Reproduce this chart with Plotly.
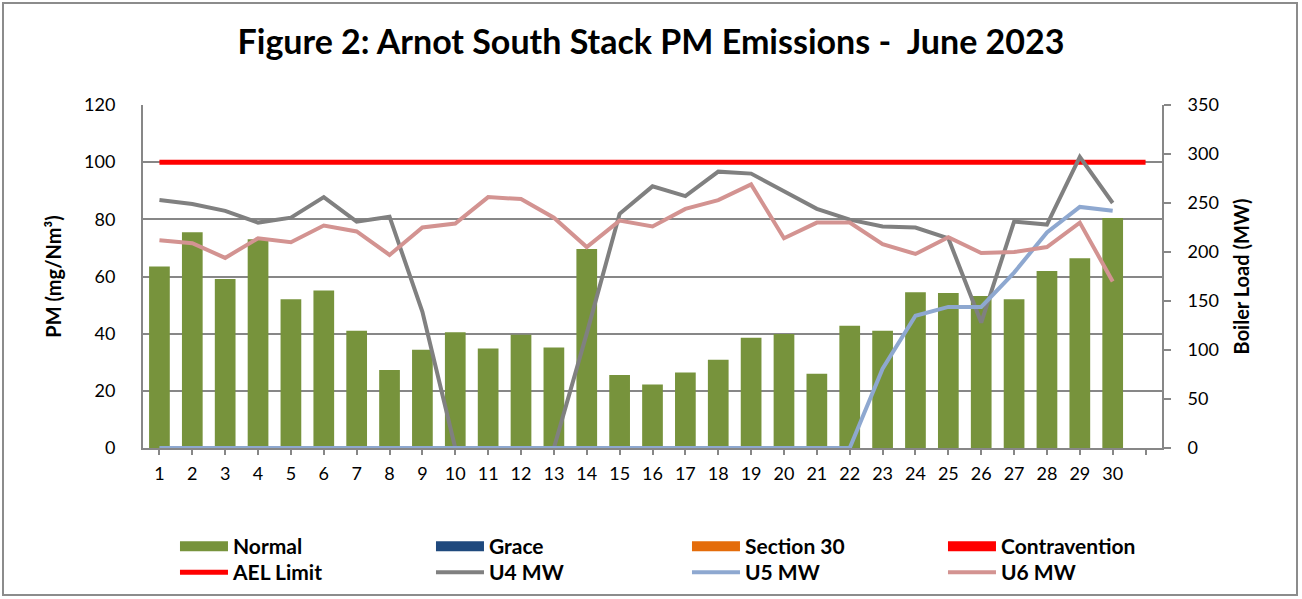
import plotly.graph_objects as go

days = list(range(1, 31))
x_tick_vals = list(range(1, 32))
x_tick_text = [str(d) for d in days] + [""]

normal = [63.5, 75.5, 59.1, 73.0, 52.0, 55.1, 41.0, 27.3, 34.4, 40.5,
          34.8, 39.6, 35.2, 69.6, 25.5, 22.2, 26.4, 30.9, 38.6, 39.9,
          26.0, 42.8, 41.0, 54.5, 54.2, 53.2, 52.0, 61.9, 66.4, 80.5]
grace = [None] * 30
section30 = [None] * 30
contravention = [None] * 30

ael_days = list(range(1, 32))
ael_limit = [100] * 31

u4_mw = [253, 249, 242, 230, 235, 256, 231, 236, 139, 0,
         0, 0, 0, 117, 239, 267, 257, 282, 280, 262,
         244, 233, 226, 225, 214, 128, 231, 228, 297, 250]
u5_mw = [0, 0, 0, 0, 0, 0, 0, 0, 0, 0,
         0, 0, 0, 0, 0, 0, 0, 0, 0, 0,
         0, 0, 81, 135, 144, 144, 179, 220, 246, 242]
u6_mw = [212, 209, 194, 214, 210, 227, 221, 197, 225, 229,
         256, 254, 235, 205, 232, 226, 244, 253, 269, 214,
         230, 230, 208, 198, 215, 199, 200, 205, 230, 170]

left_ticks = [0, 20, 40, 60, 80, 100, 120]
right_ticks = [0, 50, 100, 150, 200, 250, 300, 350]

FONT = "Lato"
GRID = "#878787"
W, H = 1302, 599

bar_series = [("Normal", normal, "#77933C"),
              ("Grace", grace, "#1F497D"),
              ("Section 30", section30, "#E46C0A"),
              ("Contravention", contravention, "#FF0000")]

fig = go.Figure()
for name, vals, color in bar_series:
    fig.add_trace(go.Bar(x=days, y=vals, name=name, marker_color=color,
                         marker_line_width=0, width=0.63, legendgroup=name,
                         showlegend=False))
# legend keys for the bar series (wide rectangular swatches as in the original)
for name, vals, color in bar_series:
    fig.add_trace(go.Scatter(x=[None], y=[None], name=name, mode="lines",
                             line=dict(color=color, width=13), legendgroup=name,
                             legend="legend", hoverinfo="skip"))

fig.add_trace(go.Scatter(x=ael_days, y=ael_limit, name="AEL Limit", mode="lines",
                         line=dict(color="#FF0000", width=5), legend="legend2"))
fig.add_trace(go.Scatter(x=days, y=u4_mw, name="U4 MW", mode="lines", yaxis="y2",
                         cliponaxis=False, line=dict(color="#808080", width=4),
                         legend="legend2"))
fig.add_trace(go.Scatter(x=days, y=u5_mw, name="U5 MW", mode="lines", yaxis="y2",
                         cliponaxis=False, line=dict(color="#8EA8D0", width=4),
                         legend="legend2"))
fig.add_trace(go.Scatter(x=days, y=u6_mw, name="U6 MW", mode="lines", yaxis="y2",
                         cliponaxis=False, line=dict(color="#D39391", width=4),
                         legend="legend2"))

L, R, T, B = 143, 140, 105, 151
pw = W - L - R
ph = H - T - B


def px_x(p):
    return (p - L) / pw


def px_y(p):
    return (H - B - p) / ph


axis_common = dict(showline=True, linecolor=GRID, linewidth=2, zeroline=False,
                   automargin=False,
                   tickcolor=GRID, tickwidth=1.5, tickfont=dict(size=18, family=FONT))

legend_common = dict(orientation="h", x=-0.001, xanchor="left", yanchor="top",
                     font=dict(size=21, family=FONT, weight="bold"), entrywidth=160,
                     entrywidthmode="pixels", traceorder="normal",
                     bgcolor="rgba(0,0,0,0)", itemwidth=48, indentation=33,
                     tracegroupgap=0)

fig.update_layout(
    width=W, height=H,
    margin=dict(l=L, r=R, t=T, b=B, autoexpand=False),
    paper_bgcolor="white", plot_bgcolor="white",
    barmode="overlay",
    font=dict(family=FONT, color="black", size=18),
    title=dict(text="<b>Figure 2: Arnot South Stack PM Emissions -  June 2023</b>",
               x=0.5, xanchor="center", y=1 - 42 / H, yanchor="middle",
               yref="container", font=dict(size=34, family=FONT, color="black")),
    xaxis=dict(range=[0.5, 31.5], tickmode="array", tickvals=x_tick_vals,
               ticktext=x_tick_text, showgrid=False,
               ticks="outside", ticklen=5, ticklabelstandoff=3, **axis_common),
    yaxis=dict(range=[0, 120], tickvals=left_ticks, showgrid=True, gridcolor=GRID,
               gridwidth=1.5, ticks="", ticklabelstandoff=22, **axis_common,
               title=dict(text="<b>PM (mg/Nm³)</b>", font=dict(size=20), standoff=17)),
    yaxis2=dict(range=[0, 350], tickvals=right_ticks, overlaying="y", side="right",
                showgrid=False, ticks="outside", ticklen=7, ticklabelstandoff=13,
                **axis_common,
                title=dict(text="<b>Boiler Load (MW)</b>", font=dict(size=20), standoff=17)),
    legend=dict(y=px_y(526), **legend_common),
    legend2=dict(y=px_y(552), **legend_common),
    shapes=[dict(type="rect", xref="paper", yref="paper",
                 x0=px_x(3), x1=px_x(1297), y0=px_y(595), y1=px_y(3),
                 line=dict(color="#8C8C8C", width=2), fillcolor="rgba(0,0,0,0)",
                 layer="below")],
)

fig.write_html("out.html", config={"displayModeBar": False},
               post_script="document.body.style.margin='0px';")
